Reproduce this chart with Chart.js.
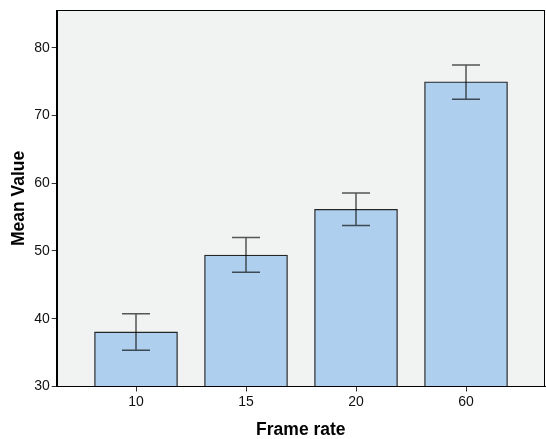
<!DOCTYPE html>
<html>
<head>
<meta charset="utf-8">
<script src="https://cdn.jsdelivr.net/npm/chart.js@4"></script>
<style>
  html, body { margin: 0; padding: 0; background: #fff; }
  #wrap { width: 546px; height: 439px; }
</style>
</head>
<body>
<div id="wrap"><canvas id="chart" width="546" height="439"></canvas></div>
<script>
// Données
const categories = ['10', '15', '20', '60'];
const meanValues = [38.05, 49.4, 56.15, 74.95];
const errLow = [35.35, 46.85, 53.75, 72.4];
const errHigh = [40.75, 52.0, 58.55, 77.45];
const yTicks = [30, 40, 50, 60, 70, 80];

// Fond gris de la zone de tracé + cadre
const plotBg = {
    id: 'plotBg',
    beforeDraw(chart) {
        const { ctx, chartArea: a } = chart;
        ctx.save();
        ctx.fillStyle = '#f1f2f2';
        ctx.fillRect(a.left, a.top, a.right - a.left, a.bottom - a.top);
        ctx.restore();
    },
    afterDraw(chart) {
        const { ctx, chartArea: a } = chart;
        ctx.save();
        ctx.strokeStyle = '#000';
        ctx.lineWidth = 1;
        ctx.strokeRect(Math.round(a.left) + 0.5, Math.round(a.top) + 0.5,
            Math.round(a.right - a.left) - 1, Math.round(a.bottom - a.top));
        ctx.restore();
    }
};

// Barres d'erreur dessinées via les échelles
const errorBars = {
    id: 'errorBars',
    afterDatasetsDraw(chart) {
        const { ctx, scales: { x, y } } = chart;
        ctx.save();
        ctx.strokeStyle = 'rgba(0,0,0,0.65)';
        ctx.lineWidth = 1.5;
        categories.forEach((c, i) => {
            const px = Math.round(x.getPixelForValue(i + 1));
            const top = y.getPixelForValue(errHigh[i]);
            const bot = y.getPixelForValue(errLow[i]);
            ctx.beginPath();
            ctx.moveTo(px, top); ctx.lineTo(px, bot);
            ctx.moveTo(px - 14, top); ctx.lineTo(px + 14, top);
            ctx.moveTo(px - 14, bot); ctx.lineTo(px + 14, bot);
            ctx.stroke();
        });
        ctx.restore();
    }
};

const font = "'Liberation Sans', Arial, sans-serif";

new Chart(document.getElementById('chart'), {
    type: 'bar',
    data: {
        datasets: [{
            data: meanValues.map((v, i) => ({ x: i + 1, y: v })),
            backgroundColor: '#aed0ee',
            borderColor: '#262626',
            borderWidth: 1.3,
            barThickness: 83
        }]
    },
    options: {
        responsive: false,
        animation: false,
        layout: { padding: { top: 8, right: 1, left: 0, bottom: 0 } },
        plugins: { legend: { display: false }, tooltip: { enabled: false } },
        scales: {
            x: {
                type: 'linear',
                offset: false,
                min: 0.279,
                max: 4.718,
                afterBuildTicks: s => { s.ticks = categories.map((c, i) => ({ value: i + 1 })); },
                afterFit: s => { s.height = 52.5; },
                ticks: {
                    callback: v => categories[v - 1],
                    font: { family: font, size: 14 },
                    color: '#111',
                    padding: 2
                },
                grid: { offset: false, drawOnChartArea: false, drawTicks: true, tickLength: 5, color: '#333' },
                border: { color: '#000' },
                title: {
                    display: true,
                    text: 'Frame rate',
                    font: { family: font, size: 17.5, weight: 'bold', lineHeight: 1 },
                    color: '#000',
                    padding: { top: 4, bottom: 0 }
                }
            },
            y: {
                min: 30,
                max: 85.5,
                afterBuildTicks: s => { s.ticks = yTicks.map(v => ({ value: v })); },
                afterFit: s => { s.width = 56.7; },
                ticks: {
                    font: { family: font, size: 14 },
                    color: '#111',
                    padding: 2
                },
                grid: { drawOnChartArea: false, drawTicks: true, tickLength: 5, color: '#333' },
                border: { color: '#000' },
                title: {
                    display: true,
                    text: 'Mean Value',
                    font: { family: font, size: 17.5, weight: 'bold', lineHeight: 1 },
                    color: '#000',
                    padding: { top: 10, bottom: 0 }
                }
            }
        }
    },
    plugins: [plotBg, errorBars]
});
</script>
</body>
</html>
